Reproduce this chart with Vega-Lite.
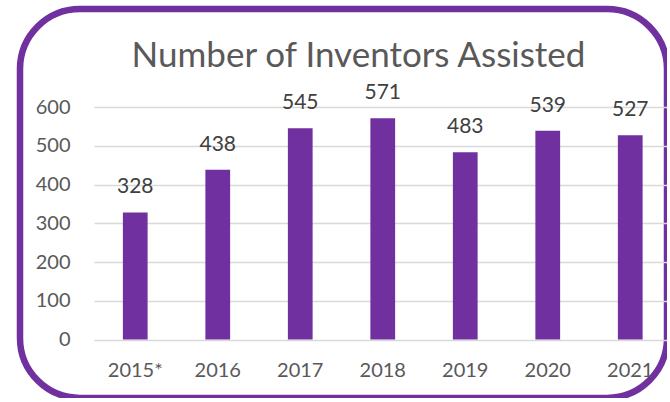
{
  "$schema": "https://vega.github.io/schema/vega-lite/v6.json",
  "autosize": {"type": "none"},
  "padding": {"left": 20, "top": 9, "right": 0, "bottom": 0},
  "width": 647,
  "height": 389,
  "background": "white",
  "config": {
    "view": {"stroke": "#7030A0", "strokeWidth": 6.5, "cornerRadius": 60},
    "font": "Lato"
  },
  "title": {
    "text": "Number of Inventors Assisted",
    "fontSize": 35,
    "fontWeight": "normal",
    "color": "#595959",
    "font": "Lato",
    "anchor": "middle",
    "offset": -93,
    "baseline": "alphabetic",
    "dx": 15
  },
  "data": {
    "values": [
      {"year": "2015*", "inventors": 328},
      {"year": "2016", "inventors": 438},
      {"year": "2017", "inventors": 545},
      {"year": "2018", "inventors": 571},
      {"year": "2019", "inventors": 483},
      {"year": "2020", "inventors": 539},
      {"year": "2021", "inventors": 527}
    ]
  },
  "encoding": {
    "x": {
      "field": "year",
      "type": "nominal",
      "sort": null,
      "scale": {"range": [74, 651.5], "paddingInner": 0.7, "paddingOuter": 0.35},
      "axis": {
        "title": null,
        "domain": false,
        "ticks": false,
        "grid": false,
        "labelAngle": 0,
        "labelFontSize": 20,
        "labelColor": "#595959",
        "labelBaseline": "middle",
        "labelPadding": 30,
        "offset": -58
      }
    }
  },
  "layer": [
    {
      "mark": {"type": "bar", "color": "#7030A0"},
      "encoding": {
        "y": {
          "field": "inventors",
          "type": "quantitative",
          "scale": {"domain": [0, 600], "range": [330.5, 98], "nice": false},
          "axis": {
            "title": null,
            "values": [0, 100, 200, 300, 400, 500, 600],
            "domain": false,
            "ticks": false,
            "grid": true,
            "gridColor": "#D9D9D9",
            "gridWidth": 1.5,
            "labelFontSize": 20,
            "labelColor": "#595959",
            "labelPadding": 0,
            "offset": -50
          }
        }
      }
    },
    {
      "mark": {"type": "text", "dy": -25, "fontSize": 21, "color": "#404040", "baseline": "middle"},
      "encoding": {
        "y": {"field": "inventors", "type": "quantitative"},
        "text": {"field": "inventors", "type": "quantitative"}
      }
    }
  ]
}
